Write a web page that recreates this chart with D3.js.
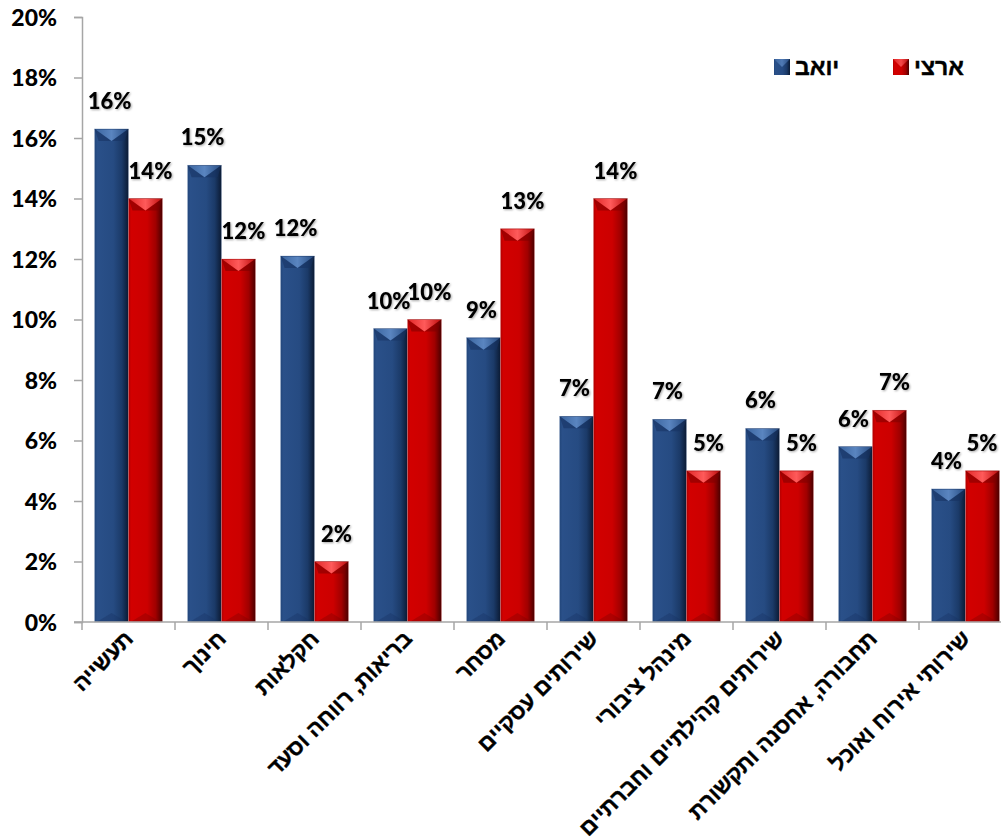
<!DOCTYPE html>
<html>
<head>
<meta charset="utf-8">
<script src="https://cdn.jsdelivr.net/npm/d3@7"></script>
<style>
  html, body { margin: 0; padding: 0; background: #fff; }
  svg { display: block; }
</style>
</head>
<body>
<svg id="chart" width="1001" height="840"></svg>
<script>
const categories = ["תעשייה", "חינוך", "חקלאות", "בריאות, רווחה וסעד", "מסחר", "שירותים עסקיים", "מינהל ציבורי", "שירותים קהילתיים וחברתיים", "תחבורה, אחסנה ותקשורת", "שירותי אירוח ואוכל"];
const seriesNames = ["יואב", "ארצי"];
const yoavValues = [16.3, 15.1, 12.1, 9.7, 9.4, 6.8, 6.7, 6.4, 5.8, 4.4];
const nationalValues = [14.0, 12.0, 2.0, 10.0, 13.0, 14.0, 5.0, 5.0, 7.0, 5.0];
const yTicks = [0, 2, 4, 6, 8, 10, 12, 14, 16, 18, 20];

const svg = d3.select("#chart");
const axisColor = "#a6a6a6";
const numFont = "Lato, Calibri, 'Liberation Sans', sans-serif";
const hebFont = "Arial, 'Liberation Sans', 'DejaVu Sans', sans-serif";

const x0 = d3.scaleBand().domain(categories).range([82, 1012]).paddingInner(0).paddingOuter(0);
const x1 = d3.scaleBand().domain(seriesNames).range([0, x0.bandwidth()]).paddingInner(0).paddingOuter(0.37);
const y = d3.scaleLinear().domain([0, 20]).range([622, 17]);

const defs = svg.append("defs");
function grad(id, stops) {
  const g = defs.append("linearGradient").attr("id", id).attr("x1", "0%").attr("x2", "100%").attr("y1", "0%").attr("y2", "0%");
  stops.forEach(s => g.append("stop").attr("offset", s[0]).attr("stop-color", s[1]));
}
grad("gBlue", [["0%", "#22467a"], ["8%", "#2a5089"], ["55%", "#264b82"], ["80%", "#1b3a68"], ["100%", "#0b1a33"]]);
grad("gRed", [["0%", "#b00000"], ["8%", "#d20000"], ["55%", "#cc0000"], ["80%", "#a00000"], ["100%", "#4a0000"]]);
grad("gBlueTop", [["0%", "#3c66a0"], ["50%", "#5a85c0"], ["100%", "#2a4f85"]]);
grad("gRedTop", [["0%", "#e22a2a"], ["50%", "#ff5a5a"], ["100%", "#c01010"]]);

const shadow = defs.append("filter").attr("id", "txtShadow").attr("x", "-20%").attr("y", "-20%").attr("width", "140%").attr("height", "140%");
shadow.append("feDropShadow").attr("dx", 1).attr("dy", 1).attr("stdDeviation", 0.8).attr("flood-color", "#000").attr("flood-opacity", 0.35);

const series = [
  { name: seriesNames[0], values: yoavValues, fill: "url(#gBlue)", top: "url(#gBlueTop)", side: "#163261", stroke: "#9fb3cf", labelShift: -2 },
  { name: seriesNames[1], values: nationalValues, fill: "url(#gRed)", top: "url(#gRedTop)", side: "#7a0000", stroke: "#e08080", labelShift: 5 }
];

// bars
const bevel = 12;
series.forEach(s => {
  const g = svg.append("g");
  categories.forEach((c, i) => {
    const v = s.values[i];
    const bx = x0(c) + x1(s.name);
    const bw = x1.bandwidth();
    const by = y(v);
    const bh = y(0) - by;
    g.append("rect").attr("x", bx).attr("y", by).attr("width", bw).attr("height", bh)
      .attr("fill", s.fill).attr("stroke", s.stroke).attr("stroke-width", 0.6).attr("stroke-opacity", 0.6);
    g.append("path").attr("d", `M${bx},${by}L${bx + bw},${by}L${bx + bw - 4},${by + bevel}L${bx + 4},${by + bevel}Z`)
      .attr("fill", s.side).attr("opacity", 0.55);
    g.append("path").attr("d", `M${bx + 1},${by + 0.5}L${bx + bw - 1},${by + 0.5}L${bx + bw / 2},${by + bevel}Z`)
      .attr("fill", s.top);
    g.append("path").attr("d", `M${bx + 2},${y(0)}L${bx + bw / 2},${y(0) - 9}L${bx + bw - 2},${y(0)}Z`)
      .attr("fill", s.side).attr("opacity", 0.35);
  });
});

// data labels
series.forEach(s => {
  svg.append("g").selectAll("text").data(categories).join("text")
    .attr("x", (c) => Math.min(x0(c) + x1(s.name) + x1.bandwidth() / 2 + s.labelShift, 982))
    .attr("y", (c, i) => y(s.values[i]) - 20)
    .attr("text-anchor", "middle")
    .attr("font-family", numFont).attr("font-weight", 900).attr("font-size", 22)
    .attr("fill", "#000").attr("filter", "url(#txtShadow)")
    .text((c, i) => Math.round(s.values[i]) + "%");
});

// y axis
const yAxis = d3.axisLeft(y).tickValues(yTicks).tickSize(8).tickPadding(17).tickFormat(d => d + "%");
const yg = svg.append("g").attr("transform", "translate(82,0)").call(yAxis);
yg.select(".domain").attr("stroke", axisColor).attr("stroke-width", 1.5);
yg.selectAll(".tick line").attr("stroke", axisColor).attr("stroke-width", 1.5);
yg.selectAll(".tick text").attr("font-family", numFont).attr("font-weight", 900).attr("font-size", 23).attr("fill", "#000").attr("dy", "0.36em");

// x axis
svg.append("line").attr("x1", 74).attr("x2", 1001).attr("y1", y(0)).attr("y2", y(0)).attr("stroke", axisColor).attr("stroke-width", 1.5);
svg.append("g").selectAll("line").data(categories).join("line")
  .attr("x1", c => x0(c)).attr("x2", c => x0(c)).attr("y1", y(0)).attr("y2", y(0) + 8)
  .attr("stroke", axisColor).attr("stroke-width", 1.5);

// x labels
svg.append("g").selectAll("text").data(categories).join("text")
  .attr("transform", c => `translate(${x0(c) + x0.bandwidth() / 2 + 6},${y(0) + 18}) rotate(-45)`)
  .attr("text-anchor", "end")
  .attr("font-family", hebFont).attr("font-weight", 700).attr("font-size", 22)
  .attr("fill", "#000").attr("stroke", "#000").attr("stroke-width", 0.4)
  .text(c => c);

// legend
const legendItems = [
  { name: seriesNames[0], x: 774, fill: "url(#gBlue)", top: "url(#gBlueTop)" },
  { name: seriesNames[1], x: 893, fill: "url(#gRed)", top: "url(#gRedTop)" }
];
legendItems.forEach(l => {
  svg.append("rect").attr("x", l.x).attr("y", 59).attr("width", 16).attr("height", 16).attr("fill", l.fill);
  svg.append("path").attr("d", `M${l.x},${59}L${l.x + 16},${59}L${l.x + 8},${67}Z`).attr("fill", l.top).attr("opacity", 0.8);
  svg.append("text").attr("x", l.x + 21).attr("y", 75)
    .attr("text-anchor", "start")
    .attr("font-family", hebFont).attr("font-weight", 700).attr("font-size", 23)
    .attr("fill", "#000").attr("stroke", "#000").attr("stroke-width", 0.4).text(l.name);
});
</script>
</body>
</html>
